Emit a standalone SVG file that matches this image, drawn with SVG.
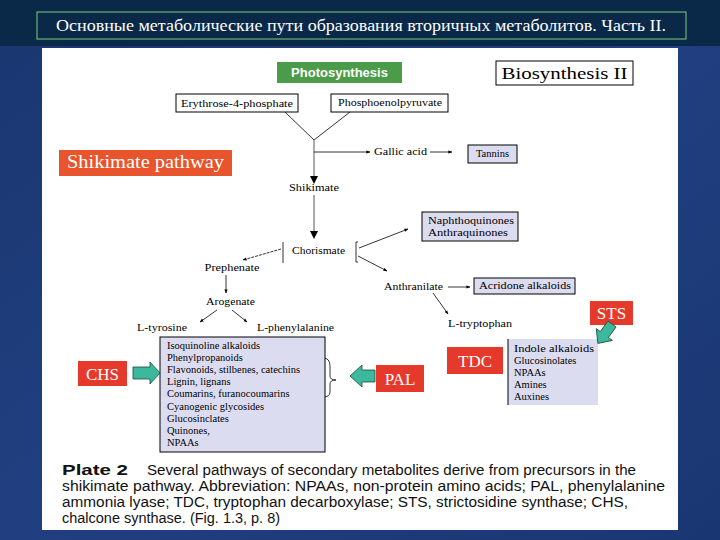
<svg xmlns="http://www.w3.org/2000/svg" width="720" height="540" viewBox="0 0 720 540">
<defs>
<linearGradient id="bg" x1="0" y1="0" x2="1" y2="1">
<stop offset="0" stop-color="#1a3670"/>
<stop offset="0.5" stop-color="#213f80"/>
<stop offset="1" stop-color="#1a3672"/>
</linearGradient>
<marker id="ah" viewBox="0 0 10 10" refX="9" refY="5" markerWidth="5" markerHeight="5" orient="auto">
<path d="M0,1 L10,5 L0,9 z" fill="#000"/>
</marker>
<style>
.s{font-family:"Liberation Serif","DejaVu Serif",serif;fill:#000}
.lbl{font-size:10.5px}
.box{fill:#fff;stroke:#000;stroke-width:1}
.lav{fill:#dcdcf0;stroke:#000;stroke-width:1}
.ln{stroke:#000;stroke-width:0.8;fill:none}
.gr{stroke:#aaaaaa;stroke-width:2;fill:none}
.red{fill:#e4392b}
.wt{font-family:"Liberation Serif","DejaVu Serif",serif;fill:#fff}
.teal{fill:#3cb89c;stroke:#1d4a40;stroke-width:0.8}
.cap{font-family:"Liberation Sans","DejaVu Sans",sans-serif;font-size:14px;fill:#111}
</style>
</defs>
<rect width="720" height="540" fill="url(#bg)"/>
<rect width="720" height="46" fill="#0a2848"/>
<g id="title">
<rect x="37" y="12" width="649" height="27" fill="none" stroke="#7ccf7c" stroke-width="1"/>
<text class="wt" x="361" y="31" font-size="16" text-anchor="middle" textLength="610" lengthAdjust="spacingAndGlyphs">Основные метаболические пути образования вторичных метаболитов. Часть II.</text>
</g>
<rect x="42" y="48" width="636" height="482" fill="#fff"/>

<g id="connectors">
<path class="ln" d="M285,112 L314,140 L350,112"/>
<path class="gr" d="M314,140 V178"/>
<path d="M310,176 L314,184 L318,176 z" fill="#000"/>
<path class="ln" d="M314,152 H370" stroke="#aaa" marker-end="url(#ah)"/>
<path class="ln" d="M430,152 H452" stroke="#aaa" marker-end="url(#ah)"/>
<path class="gr" d="M314,195 V232"/>
<path d="M310,231 L314,239 L318,231 z" fill="#000"/>
<path class="ln" d="M283,242 V263"/>
<path class="ln" d="M358,242 H356 V262 H358"/>
<path class="ln" d="M359,248 L408,229" marker-end="url(#ah)"/>
<path class="ln" d="M358,256 L387,271" marker-end="url(#ah)"/>
<path class="ln" d="M448,287 H470" marker-end="url(#ah)"/>
<path class="ln" d="M433,293 L448,314" marker-end="url(#ah)"/>
<path class="ln" d="M281,249 L243,260" stroke-dasharray="3,1" marker-end="url(#ah)"/>
<path class="ln" d="M226,275 V293" marker-end="url(#ah)"/>
<path class="ln" d="M217,310 L200,322" marker-end="url(#ah)"/>
<path class="ln" d="M232,310 L247,322" marker-end="url(#ah)"/>
<path class="ln" d="M323,358 Q330,358 330,366 V376 Q330,380 336,380 Q330,380 330,384 V392 Q330,397 323,397"/>
</g>

<g id="photosynthesis">
<rect x="277" y="62" width="125" height="21" fill="#4a9c48"/>
<text x="339.5" y="77" font-family="Liberation Sans,DejaVu Sans,sans-serif" font-weight="bold" font-size="13" fill="#fff" text-anchor="middle">Photosynthesis</text>
</g>
<g id="biosynthesis">
<rect class="box" x="496" y="61" width="137" height="24"/>
<text class="s" x="564.5" y="79" font-size="17" text-anchor="middle" textLength="126" lengthAdjust="spacingAndGlyphs">Biosynthesis II</text>
</g>
<g id="erythrose">
<rect class="box" x="176" y="94" width="122" height="18"/>
<text class="s lbl" x="237" y="107" text-anchor="middle" textLength="112" lengthAdjust="spacingAndGlyphs">Erythrose-4-phosphate</text>
</g>
<g id="pep">
<rect class="box" x="331" y="94" width="117" height="18"/>
<text class="s lbl" x="390" y="106" text-anchor="middle" textLength="104" lengthAdjust="spacingAndGlyphs">Phosphoenolpyruvate</text>
</g>
<g id="shikimate-pathway">
<rect x="59" y="150" width="173" height="26" fill="#e8542c"/>
<text class="wt" x="145.5" y="168" font-size="18" text-anchor="middle" textLength="157" lengthAdjust="spacingAndGlyphs">Shikimate pathway</text>
</g>
<g id="gallic">
<text class="s lbl" x="374" y="155" textLength="53" lengthAdjust="spacingAndGlyphs">Gallic acid</text>
</g>
<g id="tannins">
<rect class="lav" x="468" y="145" width="49" height="18"/>
<text class="s lbl" x="492.5" y="157" text-anchor="middle">Tannins</text>
</g>
<g id="shikimate">
<text class="s lbl" x="314" y="191" text-anchor="middle" textLength="50" lengthAdjust="spacingAndGlyphs">Shikimate</text>
</g>
<g id="chorismate">
<text class="s lbl" x="318.5" y="254" text-anchor="middle" textLength="53" lengthAdjust="spacingAndGlyphs">Chorismate</text>
</g>
<g id="quinones">
<rect class="lav" x="422" y="212" width="96" height="29"/>
<text class="s lbl" x="428" y="224" textLength="86" lengthAdjust="spacingAndGlyphs">Naphthoquinones</text>
<text class="s lbl" x="428" y="236" textLength="80" lengthAdjust="spacingAndGlyphs">Anthraquinones</text>
</g>
<g id="anthranilate">
<text class="s lbl" x="384" y="290" textLength="59" lengthAdjust="spacingAndGlyphs">Anthranilate</text>
</g>
<g id="acridone">
<rect class="lav" x="474" y="278" width="101" height="16"/>
<text class="s lbl" x="479" y="289" textLength="92" lengthAdjust="spacingAndGlyphs">Acridone alkaloids</text>
</g>
<g id="tryptophan">
<text class="s lbl" x="448" y="327" textLength="64" lengthAdjust="spacingAndGlyphs">L-tryptophan</text>
</g>
<g id="prephenate">
<text class="s lbl" x="232" y="271" text-anchor="middle" textLength="55" lengthAdjust="spacingAndGlyphs">Prephenate</text>
</g>
<g id="arogenate">
<text class="s lbl" x="230.5" y="305" text-anchor="middle" textLength="49" lengthAdjust="spacingAndGlyphs">Arogenate</text>
</g>
<g id="tyrosine">
<text class="s lbl" x="137" y="331" textLength="50" lengthAdjust="spacingAndGlyphs">L-tyrosine</text>
</g>
<g id="phenylalanine">
<text class="s lbl" x="257" y="331" textLength="77" lengthAdjust="spacingAndGlyphs">L-phenylalanine</text>
</g>
<g id="phe-products">
<rect class="lav" x="160" y="337" width="165" height="115"/>
<g class="s lbl">
<text x="167" y="349">Isoquinoline alkaloids</text>
<text x="167" y="361">Phenylpropanoids</text>
<text x="167" y="373">Flavonoids, stilbenes, catechins</text>
<text x="167" y="385">Lignin, lignans</text>
<text x="167" y="397">Coumarins, furanocoumarins</text>
<text x="167" y="410">Cyanogenic glycosides</text>
<text x="167" y="422">Glucosinclates</text>
<text x="167" y="434">Quinones,</text>
<text x="167" y="446">NPAAs</text>
</g>
</g>
<g id="chs">
<rect class="red" x="78" y="361" width="49" height="25"/>
<text class="wt" x="102.5" y="380" font-size="17" text-anchor="middle">CHS</text>
<polygon class="teal" points="133,367 150,367 150,362 160,373 150,384 150,379 133,379"/>
</g>
<g id="pal">
<rect class="red" x="376" y="365" width="48" height="27"/>
<text class="wt" x="400" y="385" font-size="17" text-anchor="middle">PAL</text>
<polygon class="teal" points="375,370 362,370 362,365 350,376 362,387 362,382 375,382"/>
</g>
<g id="tdc">
<rect class="red" x="447" y="347" width="56" height="27"/>
<text class="wt" x="475" y="367" font-size="17" text-anchor="middle">TDC</text>
</g>
<g id="trp-products">
<rect x="508" y="339" width="90" height="66" fill="#dcdcf0"/>
<path d="M508,339 V405" stroke="#000" stroke-width="1"/>
<g class="s lbl">
<text x="514" y="352" textLength="80" lengthAdjust="spacingAndGlyphs">Indole alkaloids</text>
<text x="514" y="364">Glucosinolates</text>
<text x="514" y="376">NPAAs</text>
<text x="514" y="388">Amines</text>
<text x="514" y="400">Auxines</text>
</g>
</g>
<g id="sts">
<rect class="red" x="590" y="301" width="43" height="24"/>
<text class="wt" x="611.5" y="319" font-size="17" text-anchor="middle">STS</text>
<polygon class="teal" points="0,-5 -13,-5 -13,-10 -24,0 -13,10 -13,5 0,5" transform="translate(612,324) rotate(-54)"/>
</g>
<g id="caption">
<text class="cap" x="62" y="475" font-weight="bold" font-size="15" textLength="66" lengthAdjust="spacingAndGlyphs">Plate 2</text>
<text class="cap" x="147" y="475" textLength="489" lengthAdjust="spacingAndGlyphs">Several pathways of secondary metabolites derive from precursors in the</text>
<text class="cap" x="62" y="491" textLength="603" lengthAdjust="spacingAndGlyphs">shikimate pathway. Abbreviation: NPAAs, non-protein amino acids; PAL, phenylalanine</text>
<text class="cap" x="62" y="507" textLength="566" lengthAdjust="spacingAndGlyphs">ammonia lyase; TDC, tryptophan decarboxylase; STS, strictosidine synthase; CHS,</text>
<text class="cap" x="62" y="523" textLength="218" lengthAdjust="spacingAndGlyphs">chalcone synthase. (Fig. 1.3, p. 8)</text>
</g>
</svg>
